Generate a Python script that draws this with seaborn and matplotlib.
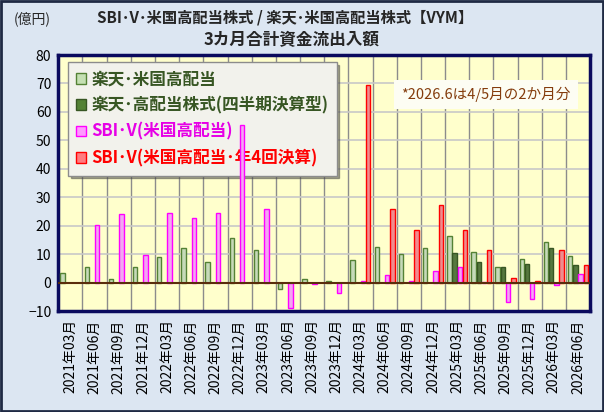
import matplotlib
matplotlib.use("Agg")
import matplotlib.pyplot as plt
from matplotlib.patches import Patch, Rectangle
import numpy as np
import pandas as pd
import seaborn as sns

# quarters (3-month totals)
periods = ["2021年03月", "2021年06月", "2021年09月", "2021年12月",
           "2022年03月", "2022年06月", "2022年09月", "2022年12月",
           "2023年03月", "2023年06月", "2023年09月", "2023年12月",
           "2024年03月", "2024年06月", "2024年09月", "2024年12月",
           "2025年03月", "2025年06月", "2025年09月", "2025年12月",
           "2026年03月", "2026年06月"]

nan = np.nan
rakuten_vym = [3.5, 5.6, 1.1, 5.4, 8.9, 12.0, 7.2, 15.6, 11.3, -2.1, 1.1, 0.7,
               8.1, 12.4, 10.0, 12.1, 16.4, 10.8, 5.5, 8.4, 14.2, 9.5]
rakuten_q = [nan] * 16 + [10.3, 7.3, 5.3, 6.6, 12.2, 6.3]
sbi_v = [nan, 20.3, 24.0, 9.7, 24.5, 22.7, 24.5, 55.4, 26.0, -8.8, -0.4, -3.7,
         0.7, 2.8, 0.6, 4.0, 5.3, 0.2, -6.7, -5.7, -0.9, 2.9]
sbi_v_q = [nan] * 12 + [69.5, 25.9, 18.5, 27.1, 18.5, 11.3, 1.6, 0.7, 11.3, 6.1]

names = ["楽天･米国高配当", "楽天･高配当株式(四半期決算型)",
         "SBI･V(米国高配当)", "SBI･V(米国高配当･年4回決算)"]
fills = ["#c5e0b3", "#548235", "#ff99ff", "#ff7c80"]
edges = ["#548235", "#375623", "#ff00ff", "#ff0000"]
text_colors = ["#375623", "#375623", "#e600e6", "#ff0000"]

df = pd.concat([
    pd.DataFrame({"期間": periods, "系列": n, "金額": v})
    for n, v in zip(names, [rakuten_vym, rakuten_q, sbi_v, sbi_v_q])
], ignore_index=True)

sns.set_style("white")
plt.rcParams["font.family"] = ["Noto Sans CJK JP", "DejaVu Sans"]

fig = plt.figure(figsize=(6.04, 4.12), dpi=100, facecolor="#dce6f2")
ax = fig.add_axes([0.0965, 0.2451, 0.8805, 0.6214])
ax.set_facecolor("#ffffcc")

sns.barplot(data=df, x="期間", y="金額", hue="系列", order=periods,
            hue_order=names, palette=fills, width=0.86, gap=0.15,
            legend=False, ax=ax, zorder=3)
for cont, ec in zip(ax.containers, edges):
    for bar in cont:
        bar.set_edgecolor(ec)
        bar.set_linewidth(1.0)

ax.set_ylim(-10, 80)
ax.set_xlim(-0.5, len(periods) - 0.5)
ax.set_yticks(range(-10, 81, 10))
ax.set_xticks(range(len(periods)))
ax.set_xticklabels(periods, rotation=90)
ax.set_xticks(np.arange(0.5, len(periods) - 0.5, 1), minor=True)
ax.tick_params(axis="both", which="both", length=0, labelsize=10, colors="#000000")
ax.tick_params(axis="x", pad=6)
ax.tick_params(axis="y", pad=5)
ax.grid(axis="y", which="major", color="#c8c8c8", lw=1.2, zorder=0)
ax.grid(axis="x", which="minor", color="#8c8c8c", lw=1.0, zorder=0)
ax.set_axisbelow(True)
ax.axhline(0, color="#5a2d0c", lw=1.5, zorder=4)
ax.set_xlabel("")
ax.set_ylabel("")
for s in ax.spines.values():
    s.set_color("#0a0a5e")
    s.set_linewidth(2.5)

# legend sits under the bars (the tall 2022-12 bar crosses it)
handles = [Patch(facecolor=f, edgecolor=e) for f, e in zip(fills, edges)]
leg = ax.legend(handles, names, loc="upper left", bbox_to_anchor=(0.018, 0.973),
                borderaxespad=0, prop={"size": 12, "weight": "bold"},
                handlelength=0.6, handleheight=0.6, handletextpad=0.3,
                labelspacing=0.5, frameon=True, fancybox=False, shadow=True,
                borderpad=0.5)
leg.get_frame().set_facecolor("#f2f2ec")
leg.get_frame().set_edgecolor("#8c8c8c")
leg.get_frame().set_alpha(1)
for t, c in zip(leg.get_texts(), text_colors):
    t.set_color(c)
leg.set_zorder(2.8)

ax.text(0.645, 0.845, "*2026.6は4/5月の2か月分", transform=ax.transAxes,
        fontsize=10.5, color="#843c0c", va="center", ha="left", zorder=7,
        bbox=dict(facecolor="#fdfdf3", edgecolor="none", pad=5))

fig.text(0.472, 0.958, "SBI･V･米国高配当株式 / 楽天･米国高配当株式【VYM】",
         ha="center", va="center", fontsize=11, fontweight="bold")
fig.text(0.482, 0.902, "3カ月合計資金流出入額", ha="center", va="center",
         fontsize=12, fontweight="bold")
fig.text(0.053, 0.955, "(億円)", ha="center", va="center", fontsize=10)

fig.patches.append(Rectangle((0.002, 0.002), 0.996, 0.996, transform=fig.transFigure,
                             fill=False, edgecolor="#1f2a44", lw=2))

fig.savefig("out.png", dpi=100, facecolor=fig.get_facecolor())
